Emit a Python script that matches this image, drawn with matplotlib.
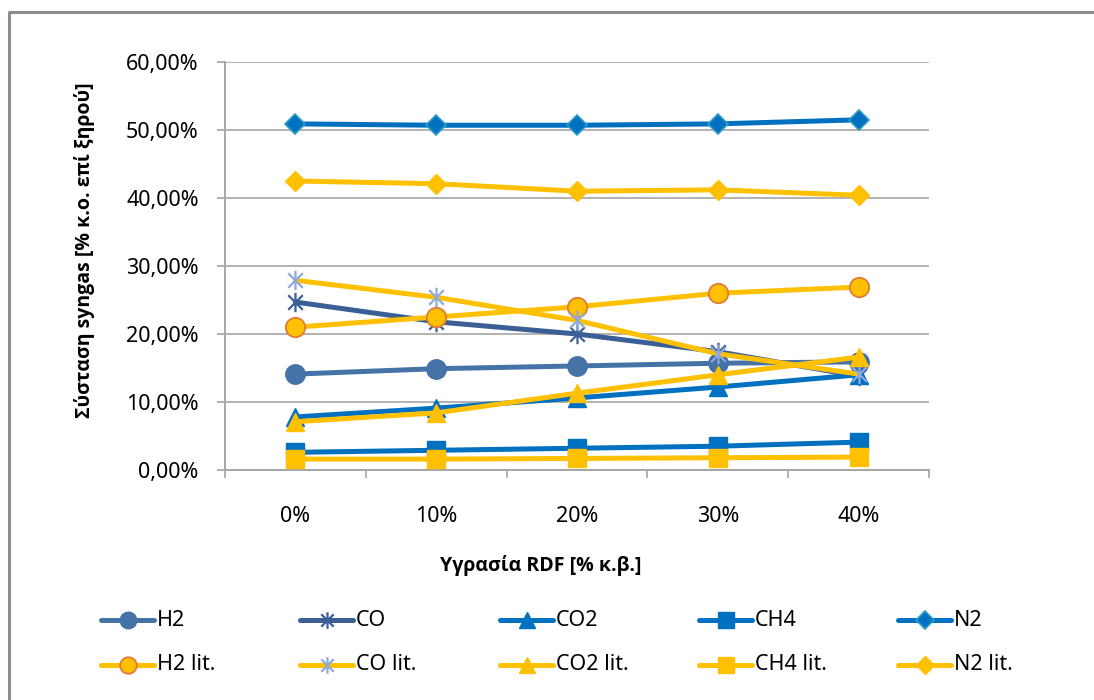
import matplotlib
matplotlib.use("Agg")
import matplotlib.pyplot as plt
from matplotlib.lines import Line2D
from matplotlib.path import Path
from matplotlib.ticker import FixedLocator, FuncFormatter
import numpy as np

plt.rcParams['font.family'] = ['Noto Sans', 'DejaVu Sans']

# moisture content of RDF (categories) and dry syngas composition [% v/v]
moisture = ['0%', '10%', '20%', '30%', '40%']
h2 = [14.1, 14.9, 15.3, 15.7, 15.9]
co = [24.7, 21.8, 20.0, 17.4, 13.8]
co2 = [7.8, 9.1, 10.6, 12.2, 14.0]
ch4 = [2.6, 2.9, 3.2, 3.5, 4.1]
n2 = [50.9, 50.7, 50.7, 50.9, 51.5]
h2_lit = [21.0, 22.5, 24.0, 26.0, 26.9]
co_lit = [27.9, 25.4, 22.0, 17.1, 14.1]
co2_lit = [7.1, 8.4, 11.3, 14.0, 16.6]
ch4_lit = [1.6, 1.6, 1.7, 1.8, 1.9]
n2_lit = [42.5, 42.1, 41.0, 41.2, 40.4]

W, H = 1094, 700
BLUE = '#0070C0'
GOLD = '#FFC000'
BOLD_FONT = ['Open Sans', 'DejaVu Sans']

# asterisk marker: vertical bar plus an X
star = Path([(0, -1), (0, 1), (-0.75, -0.75), (0.75, 0.75), (-0.75, 0.75), (0.75, -0.75)],
            [Path.MOVETO, Path.LINETO, Path.MOVETO, Path.LINETO, Path.MOVETO, Path.LINETO])

series = [
    ('H2', h2, dict(color='#4572A7', marker='o', ms=14, mfc='#4572A7', mec='#4572A7')),
    ('CO', co, dict(color='#3A5F96', marker=star, ms=14, mfc='none', mec='#3A5F96', mew=1.6)),
    ('CO2', co2, dict(color=BLUE, marker='^', ms=13.5, mfc=BLUE, mec=BLUE)),
    ('CH4', ch4, dict(color=BLUE, marker='s', ms=13, mfc=BLUE, mec=BLUE)),
    ('N2', n2, dict(color=BLUE, marker='D', ms=10.5, mfc=BLUE, mec='#2E9DC4', mew=1.2)),
    ('H2 lit.', h2_lit, dict(color=GOLD, marker='o', ms=14, mfc=GOLD, mec='#E07B39', mew=1.3)),
    ('CO lit.', co_lit, dict(color=GOLD, marker=star, ms=14, mfc='none', mec='#8EA9DB', mew=1.6)),
    ('CO2 lit.', co2_lit, dict(color=GOLD, marker='^', ms=13.5, mfc=GOLD, mec=GOLD)),
    ('CH4 lit.', ch4_lit, dict(color=GOLD, marker='s', ms=13, mfc=GOLD, mec=GOLD)),
    ('N2 lit.', n2_lit, dict(color=GOLD, marker='D', ms=10.5, mfc=GOLD, mec=GOLD)),
]

fig = plt.figure(figsize=(W / 100, H / 100), dpi=100)
ax = fig.add_axes([225 / W, 1 - 470 / H, (929 - 225) / W, (470 - 62) / H])

x = np.arange(len(moisture))
for name, vals, st in series:
    ax.plot(x, vals, lw=3.6, solid_capstyle='round', label=name, zorder=3, **st)

ax.set_xlim(-0.5, len(moisture) - 0.5)
ax.set_ylim(0, 60)
ax.yaxis.set_major_locator(FixedLocator(np.arange(0, 61, 10)))
ax.yaxis.set_major_formatter(FuncFormatter(lambda v, _: f"{v:.2f}%".replace('.', ',')))
ax.grid(axis='y', color='#A6A6A6', lw=1.2, zorder=0)
ax.set_axisbelow(True)

ax.set_xticks(x)
ax.set_xticklabels(moisture)
ax.xaxis.set_minor_locator(FixedLocator(np.arange(-0.5, len(moisture), 1.0)))
ax.tick_params(axis='x', which='major', length=0, pad=26, labelsize=15.5, colors='#000000')
ax.tick_params(axis='x', which='minor', length=6, width=1.2, color='#A6A6A6', direction='out')
ax.tick_params(axis='y', length=6, width=1.2, color='#A6A6A6', pad=13, labelsize=15.5)

for side in ('top', 'right'):
    ax.spines[side].set_visible(False)
for side in ('left', 'bottom'):
    ax.spines[side].set_color('#A6A6A6')
    ax.spines[side].set_linewidth(1.4)

def fx(px):
    return px / W

def fy(py):
    return 1 - py / H

fig.text(fx(541), fy(566), 'Υγρασία RDF [% κ.β.]', ha='center', va='center',
         fontsize=14, fontweight='bold', family=BOLD_FONT)
fig.text(fx(85), fy(250), 'Σύσταση syngas [% κ.ο. επί ξηρού]', ha='center', va='center',
         rotation=90, fontsize=14, fontweight='bold', family=BOLD_FONT)

# legend laid out as two rows of five entries
col_x = [101, 300, 500, 699, 898]
row_y = [620, 665]
for i, (name, vals, st) in enumerate(series):
    cx = col_x[i % 5]
    ry = row_y[i // 5]
    leg_st = dict(st)
    leg_st['ms'] = st['ms'] * 0.85
    line_st = {k: v for k, v in leg_st.items() if k in ('color',)}
    mark_st = {k: v for k, v in leg_st.items() if k not in ('marker', 'color')}
    fig.add_artist(Line2D([fx(cx), fx(cx + 53)], [fy(ry), fy(ry)], lw=3.6,
                          solid_capstyle='round', transform=fig.transFigure, **line_st))
    fig.add_artist(Line2D([fx(cx + 26.5)], [fy(ry)], lw=0, marker=st['marker'],
                          transform=fig.transFigure, **mark_st))
    fig.text(fx(cx + 56), fy(ry), name, ha='left', va='center', fontsize=15.5)

# chart-area frame (left and top edges)
fig.add_artist(Line2D([fx(9), fx(9), fx(W)], [fy(H), fy(12), fy(12)], color='#8C8C8C',
                      lw=2.2, transform=fig.transFigure))

fig.savefig('out.png', dpi=100, facecolor='white')
